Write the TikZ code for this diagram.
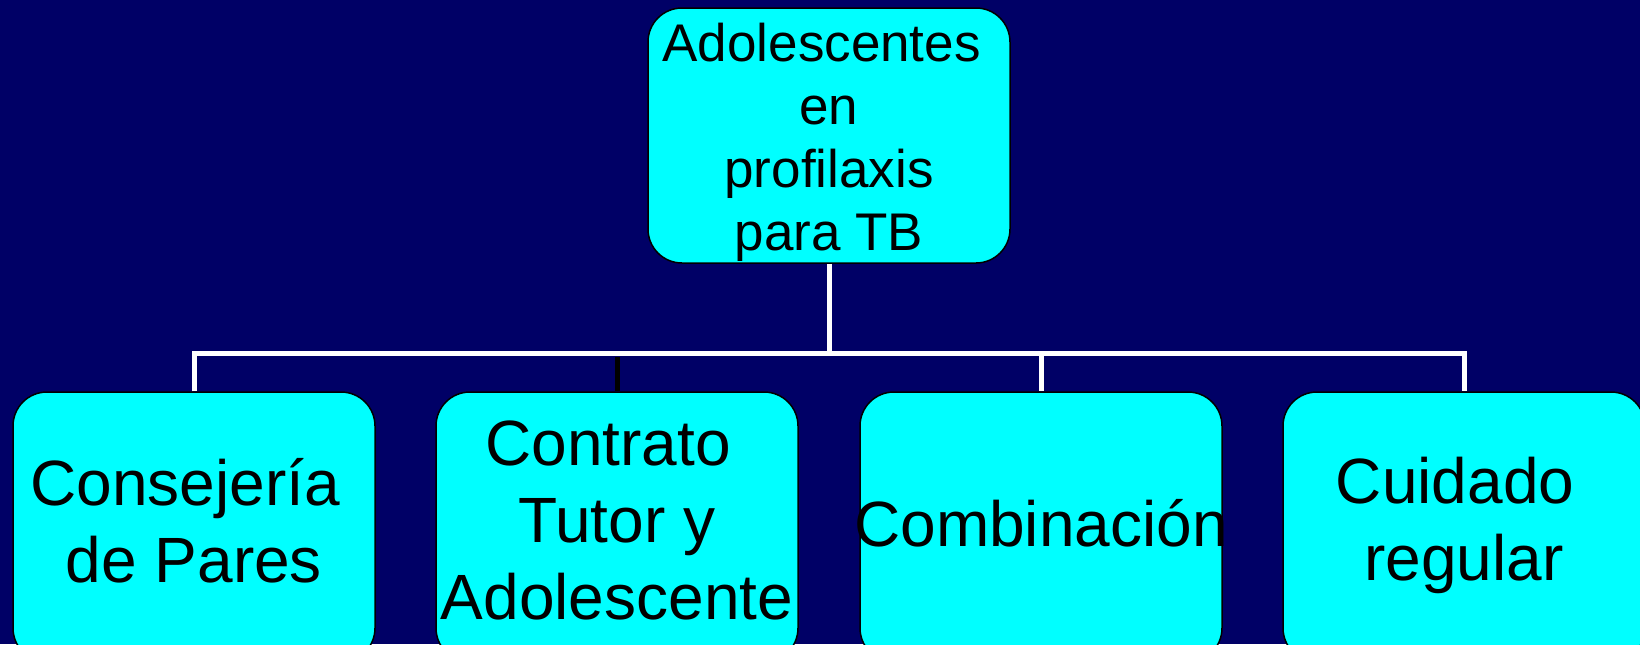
\documentclass[tikz,border=0pt]{standalone}
\usepackage{fontspec}
\setmainfont{Liberation Sans}
\definecolor{navybg}{RGB}{0,0,102}
\definecolor{boxcyan}{RGB}{0,255,255}
\newcommand{\trail}{\hspace*{0.278em}}
\begin{document}
\begin{tikzpicture}[x=0.5pt,y=-0.5pt,
  box/.style={draw=black,line width=0.75pt,fill=boxcyan,rounded corners=17pt,inner sep=0pt,minimum width=181pt,align=center,text depth=0pt},
  bottombox/.style={box,minimum height=135pt,font=\fontsize{32}{38.5}\selectfont},
  topbox/.style={box,minimum height=127.5pt,font=\fontsize{26.5}{31.5}\selectfont,text height=114.5pt},
  wire/.style={draw=white,line width=2.5pt},
  blackwire/.style={draw=black,line width=2.5pt}]
\useasboundingbox (0,0) rectangle (1640,644);
\fill[navybg] (0,0) rectangle (1640,644);
\begin{scope}
\clip (0,0) rectangle (1640,644);
\node[topbox] (top) at (829,135.5) {Adolescentes\trail\\en\\profilaxis\trail\\para TB};
\node[bottombox,text height=55pt] (b1) at (194,527) {Consejería\trail\\de Pares};
\node[bottombox,text height=92pt] (b2) at (617,527) {Contrato\trail\\Tutor y\\Adolescente};
\node[bottombox,text height=19pt] (b3) at (1041,527) {\makebox[0pt]{Combinación}};
\node[bottombox,text height=53pt] (b4) at (1464,527) {Cuidado\trail\\regular};
\coordinate (hub) at (829,353);
\coordinate (b2stub) at (617,357);
\draw[blackwire] (b2.north) -- (b2stub);
\draw[wire] (top.south) -- (hub);
\draw[wire] (b1.north) |- (hub) -| (b4.north);
\draw[wire] (hub) -| (b3.north);
\end{scope}
\end{tikzpicture}
\end{document}
